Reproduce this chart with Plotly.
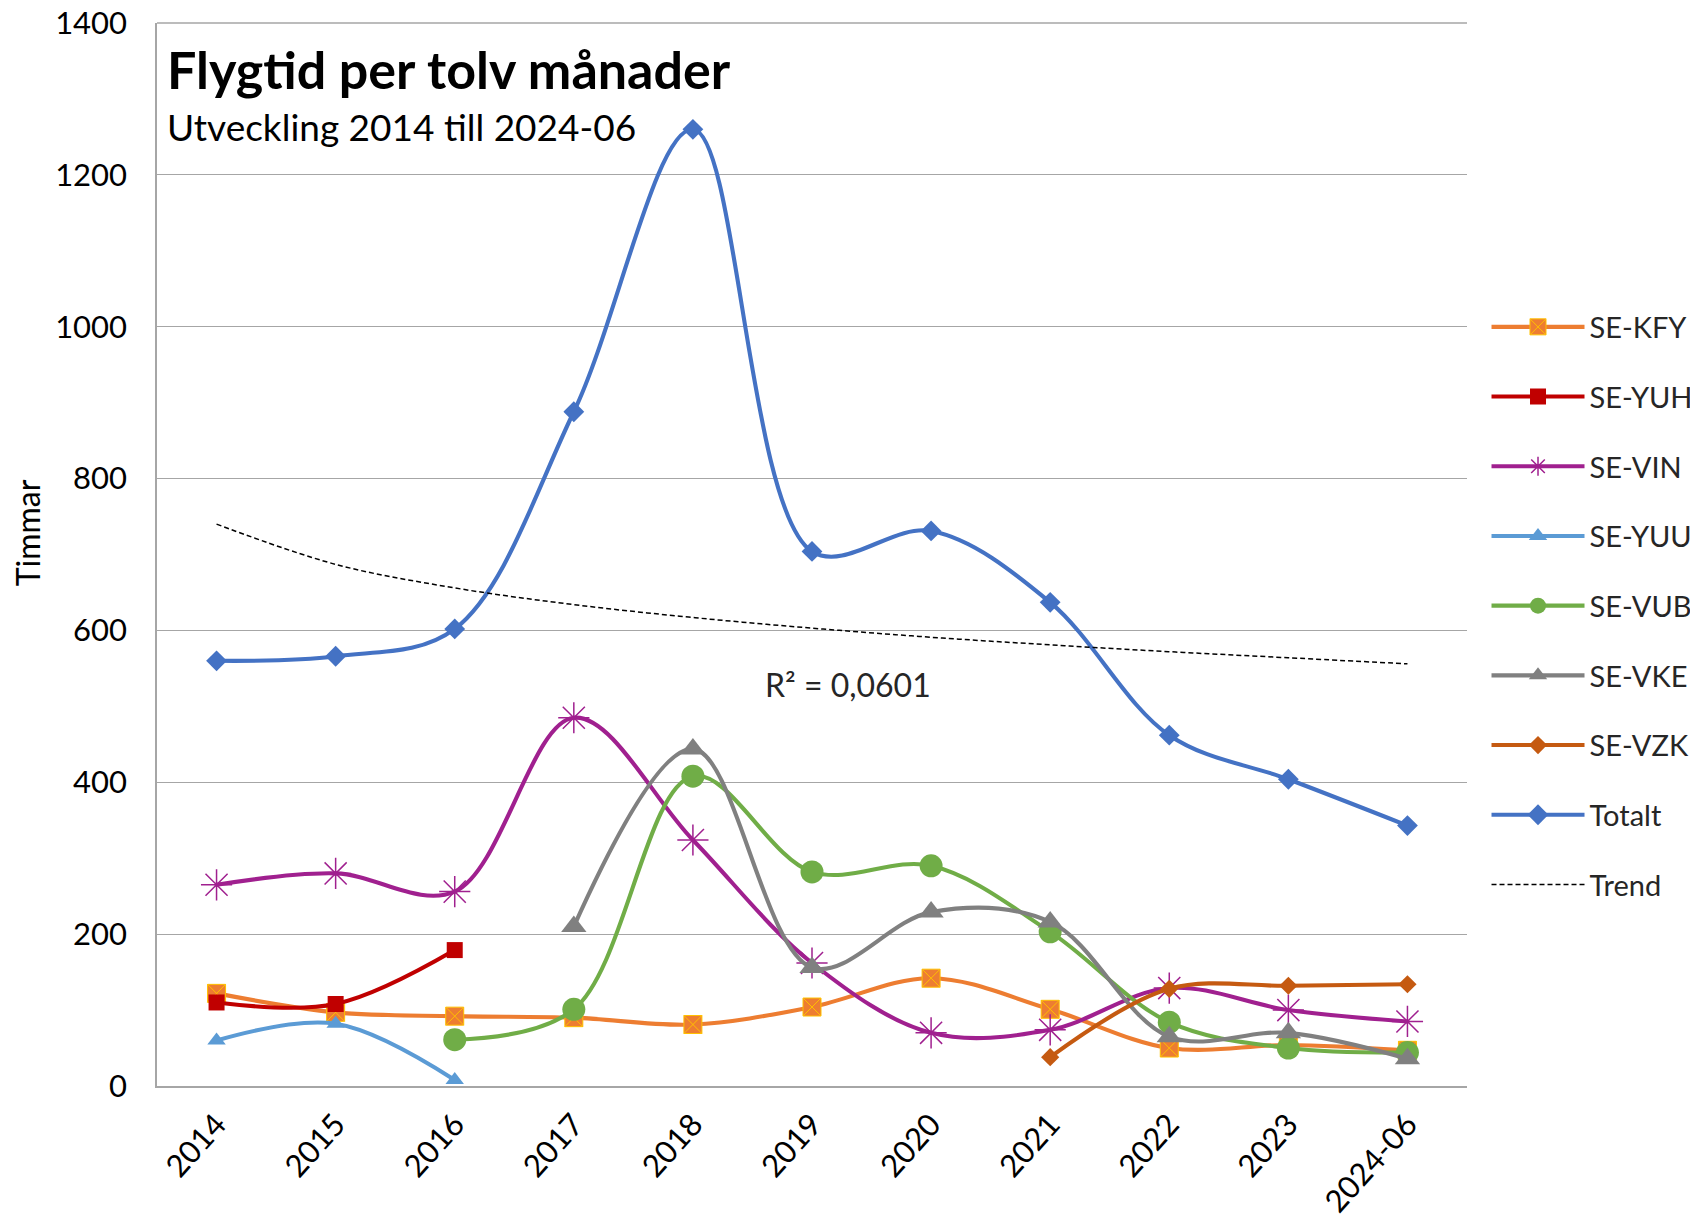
import plotly.graph_objects as go

categories = ["2014", "2015", "2016", "2017", "2018", "2019", "2020", "2021", "2022", "2023", "2024-06"]

se_kfy = [122, 97, 92, 90, 81, 104, 142, 101, 50, 54, 47]
se_yuh = [110, 108, 179, None, None, None, None, None, None, None, None]
se_vin = [265, 280, 256, 485, 324, 162, 70, 74, 129, 100, 85]
se_yuu = [60, 82, 8, None, None, None, None, None, None, None, None]
se_vub = [None, None, 61, 101, 408, 282, 290, 203, 84, 50, 44]
se_vke = [None, None, None, 210, 444, 156, 229, 216, 65, 70, 36]
se_vzk = [None, None, None, None, None, None, None, 38, 128, 132, 134]
totalt = [560, 566, 602, 888, 1260, 704, 731, 637, 462, 404, 343]
trend = [740, 687, 656, 634, 617, 603, 591, 581, 572, 564, 556]

y_ticks = [0, 200, 400, 600, 800, 1000, 1200, 1400]

FONT = "Lato"
GRID = "#A6A6A6"
xs = list(range(len(categories)))

series = [
    ("SE-KFY", se_kfy, "#ED7D31", dict(symbol="square-x", size=18, color="#ED7D31", line=dict(color="#FFC000", width=1))),
    ("SE-YUH", se_yuh, "#C00000", dict(symbol="square", size=16, color="#C00000")),
    ("SE-VIN", se_vin, "#A0208F", dict(symbol="asterisk-open", size=26, color="#A0208F", line=dict(color="#C65AB6", width=1.5))),
    ("SE-YUU", se_yuu, "#5B9BD5", dict(symbol="triangle-up", size=16, color="#5B9BD5")),
    ("SE-VUB", se_vub, "#70AD47", dict(symbol="circle", size=23, color="#70AD47")),
    ("SE-VKE", se_vke, "#808080", dict(symbol="triangle-up", size=22, color="#808080")),
    ("SE-VZK", se_vzk, "#C55A11", dict(symbol="diamond", size=14, color="#C55A11")),
    ("Totalt", totalt, "#4472C4", dict(symbol="diamond", size=16, color="#4472C4")),
]

fig = go.Figure()
for i, (name, vals, col, mk) in enumerate(series):
    fig.add_trace(go.Scatter(
        x=xs, y=vals, name=name, mode="lines+markers",
        line=dict(color=col, width=4.1, shape="spline", smoothing=1.0),
        marker=mk, connectgaps=False, legendgroup=f"g{i}",
    ))

fig.add_trace(go.Scatter(
    x=xs, y=trend, name="Trend", mode="lines",
    line=dict(color="#000000", width=1.5, dash="5px,3px", shape="spline", smoothing=1.0),
    legendgroup="g8",
))

# top gridline along the upper edge of the plot area
fig.add_shape(type="line", xref="paper", yref="paper", x0=0, x1=1, y0=1, y1=1,
              line=dict(color=GRID, width=1.3), layer="below")

fig.add_annotation(text="<b>Flygtid per tolv månader</b>", xref="paper", yref="paper",
                   x=0.006, y=0.957, xanchor="left", yanchor="middle", showarrow=False,
                   font=dict(family=FONT, size=52, color="#000000"))
fig.add_annotation(text="Utveckling 2014 till 2024-06", xref="paper", yref="paper",
                   x=0.006, y=0.903, xanchor="left", yanchor="middle", showarrow=False,
                   font=dict(family=FONT, size=37, color="#000000"))
fig.add_annotation(text="R² = 0,0601", xref="x", yref="y", x=5.3, y=529,
                   showarrow=False, font=dict(family=FONT, size=32, color="#262626"))
fig.add_annotation(text="Timmar", xref="paper", yref="paper", x=-0.0992, y=0.52,
                   xanchor="center", yanchor="middle",
                   textangle=-90, showarrow=False, font=dict(family=FONT, size=32, color="#000000"))

fig.update_layout(
    width=1698, height=1221,
    margin=dict(l=149, r=239, t=15, b=143, autoexpand=False),
    plot_bgcolor="#FFFFFF", paper_bgcolor="#FFFFFF",
    font=dict(family=FONT, color="#000000"),
    showlegend=True,
    legend=dict(xref="container", yref="paper", x=0.995, y=0.738, xanchor="right", yanchor="top",
                font=dict(family=FONT, size=29, color="#262626"),
                tracegroupgap=29, itemwidth=93, bgcolor="rgba(0,0,0,0)"),
)
fig.update_xaxes(range=[-0.5, 10.5], tickmode="array", tickvals=xs, ticktext=categories,
                 tickangle=-48, tickfont=dict(family=FONT, size=31, color="#000000"),
                 showgrid=False, zeroline=False, showline=True, linecolor=GRID, linewidth=1.5,
                 ticklabelstandoff=6, automargin=False, ticklabeloverflow="allow")
fig.update_yaxes(range=[0, 1400], tickmode="array", tickvals=y_ticks,
                 tickfont=dict(family=FONT, size=31, color="#000000"),
                 showgrid=True, gridcolor=GRID, gridwidth=1.3, zeroline=False,
                 showline=True, linecolor=GRID, linewidth=1.5, ticklabelstandoff=22,
                 automargin=False, ticklabeloverflow="allow")

fig.write_html("out.html")
